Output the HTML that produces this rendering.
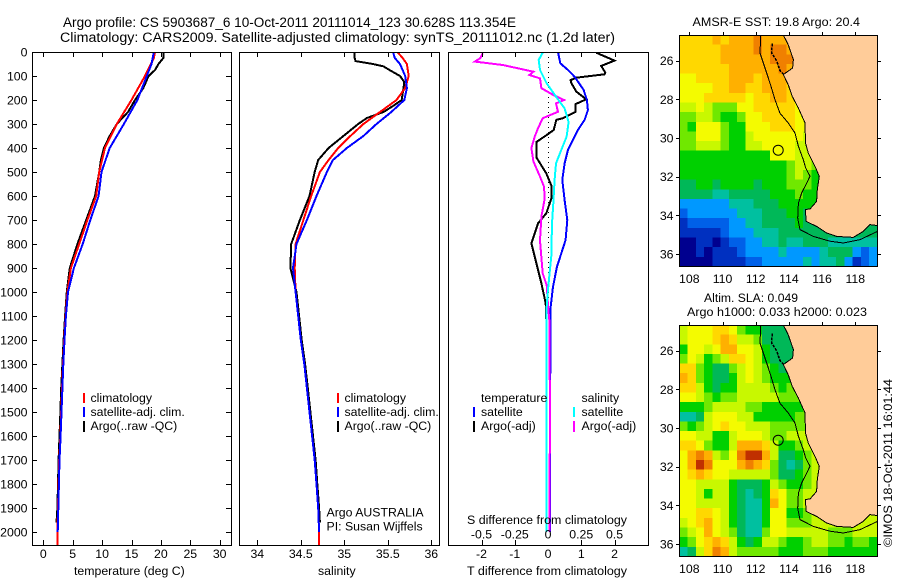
<!DOCTYPE html>
<html>
<head>
<meta charset="utf-8">
<title>Argo profile</title>
<style>
html,body{margin:0;padding:0;background:#fff;width:900px;height:580px;overflow:hidden}
svg{display:block}
text{font-family:"Liberation Sans",sans-serif;font-size:12.3px;fill:#000}
.title{font-size:13.5px}
.frame{fill:none;stroke:#000;stroke-width:1}
</style>
</head>
<body>
<svg id="chart" width="900" height="580" viewBox="0 0 900 580" shape-rendering="crispEdges" xmlns="http://www.w3.org/2000/svg">
<defs>
<clipPath id="clipTemp"><rect x="32" y="52" width="200" height="494"/></clipPath>
<clipPath id="clipSal"><rect x="239" y="52" width="201" height="494"/></clipPath>
<clipPath id="clipDiff"><rect x="448" y="52" width="201" height="494"/></clipPath>
<clipPath id="clipMap1"><rect x="679" y="35" width="199" height="232"/></clipPath>
<clipPath id="clipMap2"><rect x="679" y="325" width="199" height="232"/></clipPath>
</defs>

<text class="title" x="63" y="27" textLength="453" lengthAdjust="spacingAndGlyphs">Argo profile: CS 5903687_6 10-Oct-2011 20111014_123 30.628S 113.354E</text>
<text class="title" x="60" y="42" textLength="555" lengthAdjust="spacingAndGlyphs">Climatology: CARS2009. Satellite-adjusted climatology: synTS_20111012.nc (1.2d later)</text>

<g id="tempMarks" clip-path="url(#clipTemp)"></g>
<g id="salMarks" clip-path="url(#clipSal)"></g>
<g id="diffMarks" clip-path="url(#clipDiff)"></g>
<g id="map1Cells" clip-path="url(#clipMap1)"></g>
<g id="map2Cells" clip-path="url(#clipMap2)"></g>
<g id="ticks"></g>

<rect class="frame" x="32.5" y="52.5" width="199" height="493"/>
<rect class="frame" x="239.5" y="52.5" width="200" height="493"/>
<rect class="frame" x="448.5" y="52.5" width="200" height="493"/>
<rect class="frame" x="679.5" y="35.5" width="198" height="231"/>
<rect class="frame" x="679.5" y="325.5" width="198" height="231"/>

<text x="74" y="575">temperature (deg C)</text>
<text x="318" y="575">salinity</text>
<text x="467" y="575" textLength="160" lengthAdjust="spacingAndGlyphs">T difference from climatology</text>
<text x="467" y="524" textLength="160" lengthAdjust="spacingAndGlyphs">S difference from climatology</text>

<g>
<rect x="83" y="393" width="2" height="10" fill="#f00"/>
<text x="90.5" y="402">climatology</text>
<rect x="83" y="407" width="2" height="10" fill="#00f"/>
<text x="90.5" y="416">satellite-adj. clim.</text>
<rect x="83" y="421" width="2" height="11" fill="#000"/>
<text x="90.5" y="430">Argo(..raw -QC)</text>
</g>
<g>
<rect x="337" y="393" width="2" height="10" fill="#f00"/>
<text x="344.5" y="402">climatology</text>
<rect x="337" y="407" width="2" height="10" fill="#00f"/>
<text x="344.5" y="416">satellite-adj. clim.</text>
<rect x="337" y="421" width="2" height="11" fill="#000"/>
<text x="344.5" y="430">Argo(..raw -QC)</text>
</g>
<text x="326.5" y="516.5">Argo AUSTRALIA</text>
<text x="326.5" y="530.5">PI: Susan Wijffels</text>
<g>
<text x="481" y="402">temperature</text>
<text x="581.5" y="402">salinity</text>
<rect x="473" y="407" width="2" height="10" fill="#00f"/>
<text x="481" y="416">satellite</text>
<rect x="473" y="421" width="2" height="11" fill="#000"/>
<text x="481" y="430">Argo(-adj)</text>
<rect x="573" y="407" width="2" height="10" fill="#0ff"/>
<text x="581.5" y="416">satellite</text>
<rect x="573" y="421" width="2" height="11" fill="#f0f"/>
<text x="581.5" y="430">Argo(-adj)</text>
</g>

<text x="692.5" y="26" textLength="167.5" lengthAdjust="spacingAndGlyphs">AMSR-E SST: 19.8 Argo: 20.4</text>
<text x="704" y="302" textLength="94" lengthAdjust="spacingAndGlyphs">Altim. SLA: 0.049</text>
<text x="687" y="316" textLength="180" lengthAdjust="spacingAndGlyphs">Argo h1000: 0.033 h2000: 0.023</text>
<text transform="translate(892,547) rotate(-90)" textLength="168" lengthAdjust="spacingAndGlyphs">©IMOS 18-Oct-2011 16:01:44</text>
</svg>

<script>
/* ---------- axis ticks ---------- */
const depthTicks = [0,100,200,300,400,500,600,700,800,900,1000,1100,1200,1300,1400,1500,1600,1700,1800,1900,2000];
const tempTicks = [0,5,10,15,20,25,30];
const salTicks = [34,34.5,35,35.5,36];
const diffTTicks = [-2,-1,0,1,2];
const diffSTicks = [-0.5,-0.25,0,0.25,0.5];
const diffSTickLabels = ['-0.5','-0.25','0','0.25','0.5'];
const lonTicks = [108,110,112,114,116,118];
const latTicks = [26,28,30,32,34,36];

/* ---------- temperature profiles (depth m, deg C) ---------- */
const tempClimDepth = [0,25,100,200,300,400,500,600,700,800,900,1000,1100,1200,1300,1400,1500,1600,1700,1800,1900,2000,2054];
const tempClim      = [19,18.8,17.3,15,12.5,10.5,9.5,9,7.5,6.1,4.7,4.1,3.8,3.55,3.35,3.2,3.05,2.9,2.7,2.6,2.5,2.4,2.4];
const tempSatDepth  = [0,25,50,100,200,300,400,500,600,700,800,900,1000,1100,1200,1300,1400,1500,1600,1700,1800,1900,2000];
const tempSat       = [18.8,18.6,18.4,17.6,16,13.7,11.3,9.9,9.4,8,6.7,5.2,4.2,3.85,3.6,3.4,3.25,3.1,2.95,2.75,2.65,2.55,2.45];
const tempArgoDepth = [0,25,50,75,100,150,200,250,300,350,400,450,500,600,700,800,900,1000,1100,1200,1300,1400,1500,1600,1700,1800,1900,1960];
const tempArgo      = [20.4,20.4,19.6,19,17.9,17,15.6,14.4,12.5,11.3,10.3,9.8,9.5,8.8,7.3,5.8,4.5,4,3.7,3.45,3.25,3.05,2.9,2.75,2.6,2.5,2.4,2.25];

/* ---------- salinity profiles (depth m, psu) ---------- */
const salClimDepth = [0,25,50,100,150,200,250,300,350,400,450,500,600,700,800,900,1000,1100,1200,1300,1400,1500,1600,1700,1800,1900,2000,2054];
const salClim      = [35.61,35.67,35.72,35.74,35.70,35.60,35.41,35.22,35.07,34.93,34.82,34.72,34.62,34.53,34.44,34.43,34.44,34.47,34.5,34.54,34.57,34.6,34.63,34.66,34.68,34.7,34.71,34.71];
const salSatDepth  = [0,25,50,100,150,200,250,300,350,400,450,500,550,600,700,800,900,1000,1100,1200,1300,1400,1500,1600,1700,1800,1900,2000];
const salSat       = [35.56,35.58,35.64,35.70,35.72,35.69,35.54,35.37,35.22,35.03,34.87,34.80,34.74,34.68,34.57,34.45,34.41,34.44,34.47,34.5,34.54,34.57,34.6,34.63,34.66,34.68,34.7,34.71];
const salArgoDepth = [0,25,38,50,60,75,100,125,150,200,225,250,275,300,350,400,450,500,600,700,800,900,1000,1100,1200,1300,1400,1500,1600,1700,1800,1900,1960];
const salArgo      = [35.12,35.12,35.13,35.33,35.45,35.52,35.64,35.69,35.68,35.66,35.56,35.45,35.26,35.16,34.99,34.82,34.70,34.66,34.6,34.49,34.39,34.38,34.45,34.48,34.51,34.55,34.58,34.61,34.64,34.67,34.69,34.71,34.72];

/* ---------- differences from climatology ---------- */
const diffTSatDepth  = [0,47,75,103,158,200,242,283,325,367,408,464,533,617,700,783,839,894,978,1061,1117,1300,1600,2000];
const diffTSat       = [0.3,0.37,0.6,0.8,1.07,1.17,1.2,1.1,0.9,0.75,0.6,0.5,0.43,0.5,0.58,0.53,0.4,0.27,0.15,0.08,0.08,0.07,0.06,0.06];
const diffTArgoDepth = [3,36,58,85,93,107,117,129,165,197,217,249,276,283,325,347,375,439,506,556,611,672,714,797,881,964,1047,1117,1500,1960];
const diffTArgo      = [1.45,2.0,1.6,1.72,1.7,0.85,0.68,0.7,0.85,1.15,0.83,0.83,0.45,0.25,0.17,-0.05,-0.35,-0.35,-0.05,0.1,0.1,-0.05,-0.3,-0.5,-0.35,-0.2,-0.07,-0.05,-0.05,-0.05];
const diffSSatDepth  = [3,33,75,131,186,235,292,353,408,464,533,631,714,850,989,1061,1117,1500,2000];
const diffSSat       = [-0.04,-0.07,-0.06,-0.01,0.06,0.125,0.155,0.14,0.1,0.06,0.05,0.04,0.03,0.025,0,-0.01,-0.01,-0.01,-0.01];
const diffSArgoDepth = [6,26,40,54,82,96,110,151,179,200,214,249,276,318,353,400,456,519,561,611,686,786,922,972,1056,1117,1500,2000];
const diffSArgo      = [-0.49,-0.51,-0.55,-0.34,-0.11,-0.14,-0.06,-0.05,0.04,0.12,0.06,0.075,-0.04,-0.075,-0.1,-0.125,-0.11,-0.06,-0.03,-0.025,-0.05,-0.06,-0.04,-0.01,0,0.01,0.015,0.01];

/* ---------- map data: colour-class per 0.5 degree cell, null = land ---------- */
const sstCells = [
[10,10,10,10,11,10,11,11,11,12,11,11,11,11],
[10,10,10,10,10,11,11,11,11,12,11,12,12,11],
[10,10,10,10,10,11,11,11,11,11,11,12,12,12],
[10,10,10,10,10,10,11,11,11,11,11,11,12,11],
[9,9,10,10,10,10,11,11,11,10,11,11,11,10],
[9,9,9,9,10,10,11,11,10,10,11,11,11,10],
[9,9,9,10,10,10,10,10,9,10,10,11,11,10],
[8,8,9,8,7,7,7,9,9,10,10,10,10,10,9],
[7,7,8,8,7,6,6,7,9,9,10,10,10,10,9,9],
[7,6,9,9,9,7,6,6,9,9,9,10,10,10,9,9],
[7,7,9,9,9,7,6,6,8,9,9,9,9,9,9,8],
[7,7,8,8,8,7,6,6,8,8,9,9,9,9,8,8],
[6,6,6,6,6,6,6,6,6,6,6,9,9,9,8,8,7],
[6,6,6,6,6,6,6,6,6,6,6,6,6,7,8,8,7],
[6,6,6,6,6,6,6,6,6,6,6,6,6,7,8,7,6],
[5,5,6,6,5,6,6,6,6,5,6,6,6,7,7,7,6],
[5,5,5,5,4,4,5,5,5,5,5,6,6,6,7,6,6],
[3,3,3,3,3,3,4,4,4,5,5,5,6,6,6,6,6],
[2,3,3,3,3,3,3,4,4,4,5,5,5,6,6,5],
[1,2,2,2,2,2,3,3,4,4,5,5,5,5,6,5,5,null,null,null,null,null,5,5],
[1,1,1,1,1,2,3,3,3,4,4,4,5,5,5,5,5,5,5,5,5,5,5,5],
[0,0,1,1,0,1,2,2,3,3,4,4,5,4,4,5,5,5,4,4,4,4,4,4],
[0,0,1,0,1,1,1,2,3,3,3,3,4,3,3,3,3,4,5,5,5,3,2,3],
[0,0,0,0,1,1,1,1,2,2,3,3,3,3,3,4,3,4,4,5,3,1,2,3]
];
const slaCells = [
[8,9,9,9,10,10,9,7,6,6,5,5,5,5],
[8,9,9,9,10,11,10,8,8,7,5,5,5,5],
[6,9,9,8,9,11,11,9,9,8,6,5,5,5],
[7,9,8,6,7,8,10,10,9,8,6,5,5,5],
[10,10,7,6,5,5,7,8,9,8,7,6,5,5],
[11,10,7,6,5,5,6,8,9,8,7,6,6,6],
[10,10,8,6,5,6,6,8,8,8,8,7,6,7,7],
[9,9,8,7,6,7,7,8,8,8,8,8,7,7,7],
[6,6,6,7,8,8,8,8,7,7,6,6,6,6,6,7],
[4,4,5,8,9,9,9,8,8,6,6,6,6,6,7,7],
[7,6,7,8,9,10,9,9,8,8,8,7,7,7,7,7],
[9,9,8,8,6,6,8,9,9,9,8,7,7,8,8,8],
[10,10,9,7,6,6,8,11,11,11,10,8,6,6,7,8,8],
[9,11,12,11,8,7,9,12,13,13,11,8,5,5,6,7,8],
[9,11,13,12,9,9,9,11,12,11,10,7,5,4,5,7,8,8],
[9,10,11,10,9,9,8,8,8,8,8,7,5,5,6,7,8,8],
[9,9,8,8,8,8,6,5,5,5,6,8,7,6,6,7,8,8],
[9,9,8,6,8,8,6,5,4,5,6,10,9,7,7,8,8,8],
[9,9,8,8,8,8,6,5,4,4,6,11,9,7,7,8,8,8],
[9,9,10,10,9,8,6,5,4,4,6,9,9,6,6,7,8,8,null,null,null,null,8,8],
[8,9,10,11,9,8,6,5,4,4,6,9,9,7,7,7,8,8,8,8,8,8,8,8],
[7,8,9,11,9,8,7,5,4,4,7,9,9,8,8,8,8,8,7,7,7,8,8,8],
[6,7,9,10,11,10,8,6,5,6,8,8,7,6,6,7,8,8,7,7,6,7,7,6],
[4,5,8,10,12,11,8,7,7,7,7,7,6,6,6,7,7,7,6,6,6,6,6,6]
];
const colourClasses = ['#00008f','#0030c0','#0060e8','#0098ff','#00c0a0','#00b858','#00d000','#70e800','#c8f800','#f4fb00','#ffd800','#ffb000','#f08000','#c03000'];

/* ---------- geography (lon E, lat S) ---------- */
const coastLon = [113.66,113.96,114.27,114.22,113.66,113.96,114.2,114.57,114.97,115.0,115.17,115.57,115.83,115.71,115.67,115.27,115.0,115.03,115.67,116.27,116.88,117.88,118.48,118.88,119.33,119.33];
const coastLat = [24.67,25.17,25.95,26.38,26.72,27.24,27.84,28.45,29.22,30.26,30.78,31.47,31.98,32.67,33.28,33.67,33.7,34.31,34.57,34.91,35.09,35.14,34.83,34.48,34.53,24.67];
const isobathLon = [112.30,112.26,112.56,112.86,113.16,113.46,113.96,114.37,114.57,114.87,115.01,115.27,115.07,114.77,114.57,114.53,114.67,115.47,116.47,117.28,118.28,119.33];
const isobathLat = [24.67,25.60,26.38,27.16,28.02,28.71,29.22,29.74,30.43,31.12,31.55,31.98,32.33,32.84,33.36,34.14,34.74,35.09,35.34,35.43,35.26,34.83];
const islandLon = [113.0,112.96,113.26,113.46,113.66];
const islandLat = [25.1,25.6,26.0,26.5,26.7];
const argoLon = [113.354];
const argoLat = [30.628];

/* ---------- axis functions ---------- */
function yDepth(d){ return 52 + d * 0.24; }
function xTemp(v){ return 43.3 + v * 5.88; }
function xSal(v){ return 257.3 + (v - 34) * 87; }
function xDiffT(v){ return 548 + v * 33.25; }
function xDiffS(v){ return 548 + v * 133; }
function xLon(v){ return 689.3 + (v - 108) * 16.6; }
function yLat(v, top){ return top + 25.7 + (v - 26) * 19.33; }

const NS = 'http://www.w3.org/2000/svg';
const lineW = 2;
function mk(parent, tag, attrs){
  const el = document.createElementNS(NS, tag);
  for (const k in attrs) el.setAttribute(k, attrs[k]);
  parent.appendChild(el);
  return el;
}
function pts(xs, ys, fx, fy){
  return xs.map(function(x, i){ return fx(x).toFixed(1) + ',' + fy(ys[i]).toFixed(1); }).join(' ');
}
function drawProfile(host, label, depth, vals, fx, colour, width){
  const p = mk(host, 'polyline', {points: pts(vals, depth, fx, yDepth), fill:'none', stroke:colour, 'stroke-width':width});
  
  
}

const tempG = document.getElementById('tempMarks');
drawProfile(tempG, 'temperature-argo-line', tempArgoDepth, tempArgo, xTemp, '#000', lineW);
drawProfile(tempG, 'temperature-climatology-line', tempClimDepth, tempClim, xTemp, '#f00', lineW);
drawProfile(tempG, 'temperature-satellite-line', tempSatDepth, tempSat, xTemp, '#00f', lineW);

const salG = document.getElementById('salMarks');
drawProfile(salG, 'salinity-argo-line', salArgoDepth, salArgo, xSal, '#000', lineW);
drawProfile(salG, 'salinity-climatology-line', salClimDepth, salClim, xSal, '#f00', lineW);
drawProfile(salG, 'salinity-satellite-line', salSatDepth, salSat, xSal, '#00f', lineW);

const diffG = document.getElementById('diffMarks');
const zeroLine = mk(diffG, 'line', {x1:xDiffT(0)+0.5, x2:xDiffT(0)+0.5, y1:52, y2:yDepth(1100), stroke:'#000', 'stroke-width':1, 'stroke-dasharray':'1 4'});


drawProfile(diffG, 'difference-t-argo-line', diffTArgoDepth, diffTArgo, xDiffT, '#000', lineW);
drawProfile(diffG, 'difference-t-satellite-line', diffTSatDepth, diffTSat, xDiffT, '#00f', lineW);
drawProfile(diffG, 'difference-s-argo-line', diffSArgoDepth, diffSArgo, xDiffS, '#f0f', lineW);
drawProfile(diffG, 'difference-s-satellite-line', diffSSatDepth, diffSSat, xDiffS, '#0ff', lineW);

/* ---------- maps ---------- */
function drawMap(host, cells, top){
  const lonStep = 0.497, latStep = 0.4988, lon0 = 107.4, lat0 = 24.67;
  const bg = mk(host, 'rect', {x:679, y:top, width:199, height:232, fill:'#ffcc99'});
  
  
  cells.forEach(function(row, j){
    row.forEach(function(v, i){
      if (v === null) return;
      const x1 = xLon(lon0 + i * lonStep), x2 = xLon(lon0 + (i + 1) * lonStep);
      const y1 = yLat(lat0 + j * latStep, top), y2 = yLat(lat0 + (j + 1) * latStep, top);
      const c = mk(host, 'rect', {x:x1.toFixed(1), y:y1.toFixed(1), width:(x2 - x1 + 0.5).toFixed(1), height:(y2 - y1 + 0.5).toFixed(1), fill:colourClasses[v]});
      
      
    });
  });
  const fy = function(v){ return yLat(v, top); };
  const land = mk(host, 'polygon', {points: pts(coastLon, coastLat, xLon, fy), fill:'#ffcc99', stroke:'#000', 'stroke-width':1});
  
  
  const iso = mk(host, 'polyline', {points: pts(isobathLon, isobathLat, xLon, fy), fill:'none', stroke:'#000', 'stroke-width':1});
  
  
  const island = mk(host, 'polyline', {points: pts(islandLon, islandLat, xLon, fy), fill:'none', stroke:'#000', 'stroke-width':1.5, 'stroke-dasharray':'3 1'});
  
  
  const dot = mk(host, 'circle', {cx:xLon(argoLon[0]).toFixed(1), cy:fy(argoLat[0]).toFixed(1), r:5, fill:'none', stroke:'#000', 'stroke-width':1, 'shape-rendering':'auto'});
  
  
}
drawMap(document.getElementById('map1Cells'), sstCells, 35);
drawMap(document.getElementById('map2Cells'), slaCells, 325);

/* ---------- ticks and tick labels ---------- */
const tk = document.getElementById('ticks');
function tick(x1, y1, x2, y2){
  const t = mk(tk, 'line', {x1:x1, y1:y1, x2:x2, y2:y2, stroke:'#000', 'stroke-width':1});
  
  
}
function label(x, y, txt, anchor){
  const t = mk(tk, 'text', {x:x, y:y, 'text-anchor':anchor});
  t.textContent = txt;
  
  
}
depthTicks.forEach(function(d){
  const y = Math.round(yDepth(d)) + 0.5;
  if (d > 0) { tick(32, y, 37, y); tick(226, y, 232, y); }
  label(27.5, yDepth(d) + 4.5, String(d), 'end');
});
tempTicks.forEach(function(v){
  const x = Math.round(xTemp(v)) + 0.5;
  tick(x, 52, x, 57);
  tick(x, 540, x, 545);
  label(xTemp(v), 558, String(v), 'middle');
});
salTicks.forEach(function(v){
  const x = Math.round(xSal(v)) + 0.5;
  tick(x, 52, x, 57);
  tick(x, 540, x, 545);
  label(xSal(v), 558, String(v), 'middle');
});
diffTTicks.forEach(function(v){
  const x = Math.round(xDiffT(v)) + 0.5;
  if (v !== 0) { tick(x, 52, x, 57); tick(x, 540, x, 545); }
  label(xDiffT(v), 558, String(v), 'middle');
});
diffSTicks.forEach(function(v, i){
  label(xDiffS(v), 538.5, diffSTickLabels[i], 'middle');
});
[[35, 266], [325, 556]].forEach(function(box){
  const top = box[0], bottom = box[1];
  lonTicks.forEach(function(v){
    const x = Math.round(xLon(v)) + 0.5;
    tick(x, top - 3, x, top + 1);
    label(xLon(v), bottom + 17, String(v), 'middle');
  });
  latTicks.forEach(function(v){
    const y = Math.round(yLat(v, top)) + 0.5;
    tick(676, y, 680, y);
    tick(877, y, 881, y);
    label(673.5, yLat(v, top) + 4.5, String(v), 'end');
  });
});
</script>
</body>
</html>
